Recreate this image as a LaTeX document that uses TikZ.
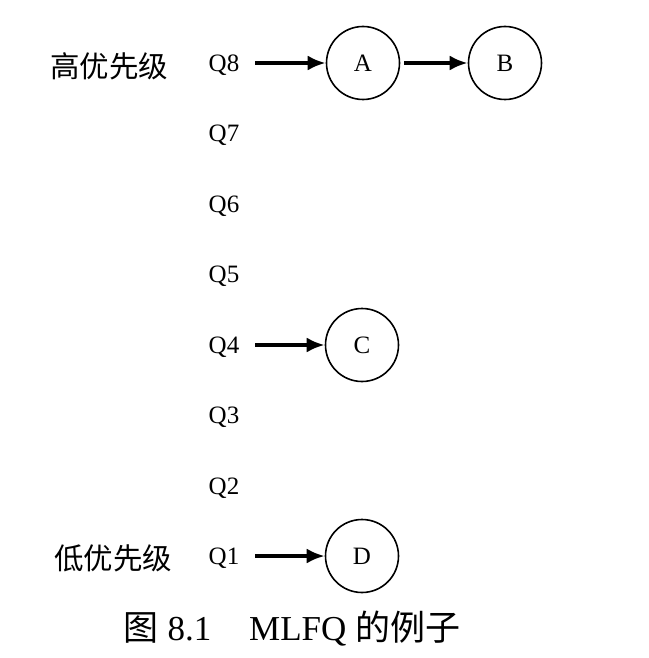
\documentclass[tikz,border=0pt]{standalone}
\usepackage{fontspec}
\setmainfont{Liberation Serif}
\newfontfamily\cjk{Noto Sans CJK SC}
\usetikzlibrary{arrows.meta}
\begin{document}
\begin{tikzpicture}[x=1pt,y=-1pt,
  qlab/.style={font=\fontsize{25}{30}\selectfont, text height=17pt, text depth=0pt, inner sep=0pt, anchor=center},
  proc/.style={circle, draw, line width=1.6pt, minimum size=73pt, inner sep=0pt, font=\fontsize{25}{30}\selectfont},
  link/.style={line width=3.4pt, -{Latex[length=18pt,width=15pt]}, shorten <=16pt},
  link2/.style={line width=3.4pt, -{Latex[length=18pt,width=15pt]}, shorten <=4pt},
  lvl/.style={font=\cjk\fontsize{29.5}{34}\selectfont, inner sep=0pt}]
\useasboundingbox (0,0) rectangle (648,658);
\node[qlab] (q8) at (224,63) {Q8};
\node[qlab] (q7) at (224,133) {Q7};
\node[qlab] (q6) at (224,204) {Q6};
\node[qlab] (q5) at (224,274) {Q5};
\node[qlab] (q4) at (224,345) {Q4};
\node[qlab] (q3) at (224,415) {Q3};
\node[qlab] (q2) at (224,486) {Q2};
\node[qlab] (q1) at (224,556) {Q1};
\node[proc] (A) at (363,63) {A};
\node[proc] (B) at (505,63) {B};
\node[proc] (C) at (362,345) {C};
\node[proc] (D) at (362,556) {D};
\draw[link] (q8) -- (A);
\draw[link2] (A) -- (B);
\draw[link] (q4) -- (C);
\draw[link] (q1) -- (D);
\node[lvl] (hi) at (109,66) {高优先级};
\node[lvl] (lo) at (113,558) {低优先级};
\node[font=\fontsize{35}{40}\selectfont, inner sep=0pt] (cap) at (292,629) {{\cjk 图} 8.1\hspace{38pt}MLFQ {\cjk 的例子}};
\end{tikzpicture}
\end{document}
